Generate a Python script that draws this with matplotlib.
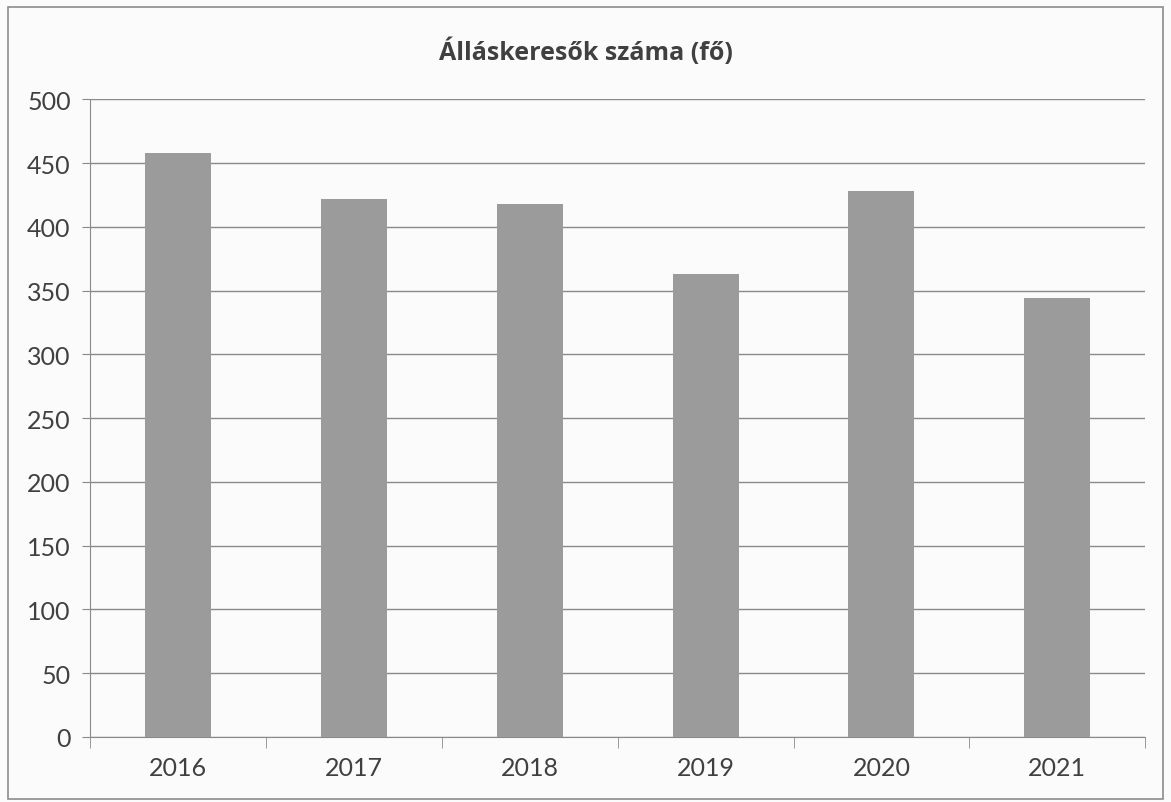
import matplotlib.pyplot as plt
from matplotlib.patches import Rectangle

# adatok
years = ['2016', '2017', '2018', '2019', '2020', '2021']
jobseekers = [458, 422, 418, 363, 428, 344]
y_ticks = [0, 50, 100, 150, 200, 250, 300, 350, 400, 450, 500]

plt.rcParams['font.family'] = ['Lato', 'DejaVu Sans']

fig = plt.figure(figsize=(11.71, 8.03), dpi=100)
fig.patch.set_facecolor('#fbfbfb')
ax = fig.add_axes([0.077, 0.081, 0.901, 0.794])
ax.set_facecolor('#fbfbfb')

# keret a diagram körül
fig.patches.append(Rectangle((0.007, 0.004), 0.986, 0.986, transform=fig.transFigure,
                             fill=False, edgecolor='#8c8c8c', linewidth=1.2))

x = list(range(len(years)))
ax.bar(x, jobseekers, width=0.375, color='#9b9b9b', zorder=3)

ax.set_xlim(-0.5, len(years) - 0.5)
ax.set_ylim(0, 500)
ax.set_yticks(y_ticks)
ax.set_xticks(x)
ax.set_xticklabels(years)
ax.yaxis.grid(True, color='#8a8a8a', linewidth=1.0, zorder=0)

for side in ['top', 'right']:
    ax.spines[side].set_visible(False)
ax.spines['left'].set_color('#8a8a8a')
ax.spines['bottom'].set_color('#8a8a8a')

ax.set_xticks([i - 0.5 for i in range(len(years) + 1)], minor=True)
ax.tick_params(axis='x', which='major', length=0, pad=14, labelsize=18, labelcolor='#404040')
ax.tick_params(axis='x', which='minor', length=8, color='#8a8a8a')
ax.tick_params(axis='y', length=6, color='#8a8a8a', pad=8, labelsize=18, labelcolor='#404040')

fig.text(0.5, 0.935, 'Álláskeresők száma (fő)', ha='center', va='center',
         fontsize=18, fontweight='bold', color='#404040', family=['Open Sans', 'DejaVu Sans'])

fig.savefig('out.png', dpi=100, facecolor=fig.get_facecolor())
